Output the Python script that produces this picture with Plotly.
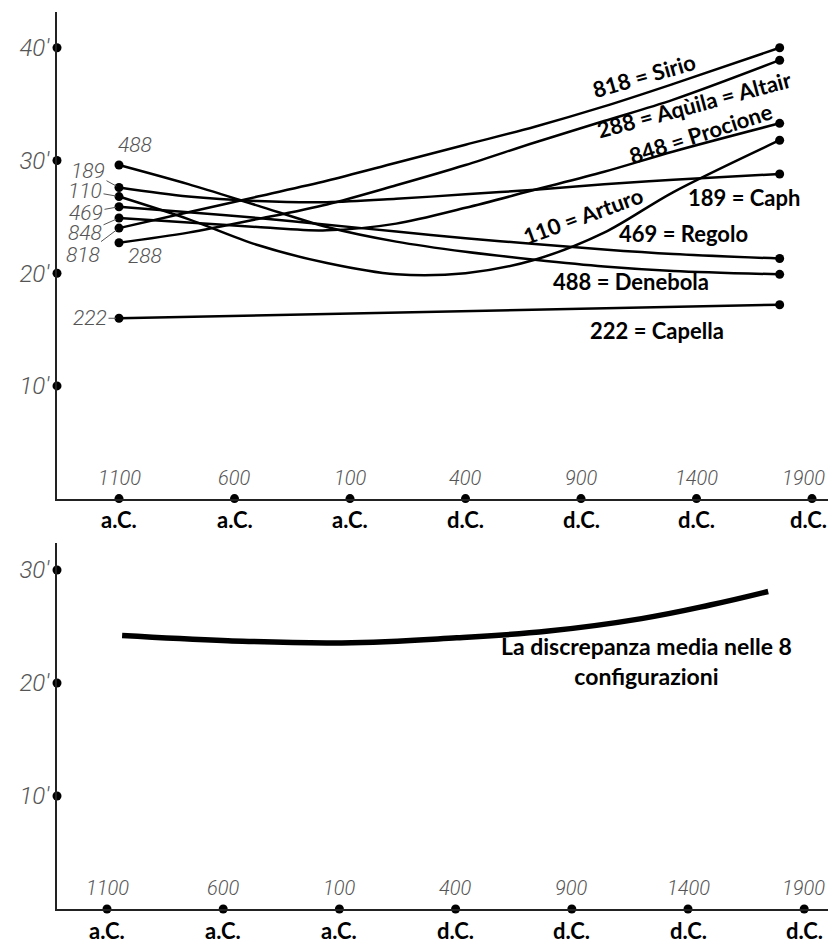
import plotly.graph_objects as go

# ---------------- data ----------------
years = [-1100, -800, -500, -200, 100, 400, 700, 1000, 1300, 1760]
sirio    = [24.0, 25.4, 26.8, 28.2, 29.8, 31.4, 33.0, 34.8, 36.8, 40.0]
altair   = [22.7, 23.6, 24.8, 26.1, 27.8, 29.6, 31.6, 33.5, 35.4, 38.9]
procione = [24.9, 24.5, 24.1, 23.8, 24.4, 25.8, 27.4, 29.0, 30.8, 33.3]
arturo   = [26.8, 24.8, 22.5, 20.9, 19.9, 20.0, 21.2, 23.6, 27.2, 31.8]
caph     = [27.6, 26.8, 26.4, 26.3, 26.6, 27.0, 27.4, 27.9, 28.3, 28.8]
regolo   = [25.9, 25.4, 24.9, 24.3, 23.7, 23.1, 22.6, 22.1, 21.7, 21.3]
denebola = [29.6, 27.9, 26.0, 24.1, 22.8, 21.9, 21.2, 20.6, 20.2, 19.9]
capella_years = [-1100, 1760]
capella  = [16.0, 17.2]

mean_years = [-1035, -580, -90, 405, 800, 1200, 1495, 1745]
mean_vals  = [24.2, 23.75, 23.55, 24.0, 24.6, 25.7, 26.9, 28.1]

x_tick_years = [-1100, -600, -100, 400, 900, 1400, 1900]
x_tick_nums  = ["1100", "600", "100", "400", "900", "1400", "1900"]
x_tick_eras  = ["a.C.", "a.C.", "a.C.", "d.C.", "d.C.", "d.C.", "d.C."]
top_y_ticks  = [10, 20, 30, 40]
bot_y_ticks  = [10, 20, 30]
y_tick_text  = {10: "10'", 20: "20'", 30: "30'", 40: "40'"}

# ---------------- layout geometry ----------------
# the page body has an 8 px margin, so the figure is drawn 8 px smaller and offset
O = 8
W, H = 836 - O, 943 - O
VISIBLE_RIGHT = 826  # right-most page pixel that is reliably visible


def px_x(px):
    return (px - O) / W


def px_y(py):
    return (H - (py - O)) / H


def top_x(px):
    return -1100 + (px - 119) / 115.5 * 500


def top_x_px(year):
    return 119 + (year + 1100) / 500 * 115.5


def top_y(py):
    return (498.6 - py) / 11.27


def bot_x(px):
    return -1100 + (px - 107) / 116.2 * 500


def bot_x_px(year):
    return 107 + (year + 1100) / 500 * 116.2


def bot_y(py):
    return (909 - py) / 11.3


top_xrange = [top_x(57), top_x(836)]
top_yrange = [0, top_y(12)]
bot_xrange = [bot_x(57), bot_x(836)]
bot_yrange = [0, bot_y(543)]

GRAY_FONT = dict(family="Roboto, 'Liberation Sans Narrow', sans-serif",
                 size=21, color="#555555", style="italic", weight=300)
XNUM_FONT = dict(GRAY_FONT, size=20)
YTICK_FONT = dict(GRAY_FONT, size=24)
BOLD_FONT = dict(family="Lato, 'Open Sans', sans-serif", size=22, color="black", weight="bold")

fig = go.Figure()

series = [
    ("818", sirio), ("288", altair), ("848", procione), ("110", arturo),
    ("189", caph), ("469", regolo), ("488", denebola),
]
for code, vals in series:
    fig.add_trace(go.Scatter(x=years, y=vals, mode="lines",
                             line=dict(color="black", width=2.5, shape="spline", smoothing=0.9),
                             hoverinfo="skip", showlegend=False, xaxis="x", yaxis="y"))
    fig.add_trace(go.Scatter(x=[years[0], years[-1]], y=[vals[0], vals[-1]], mode="markers",
                             marker=dict(color="black", size=9), cliponaxis=False,
                             hoverinfo="skip", showlegend=False, xaxis="x", yaxis="y"))
fig.add_trace(go.Scatter(x=capella_years, y=capella, mode="lines+markers",
                         line=dict(color="black", width=2.5), marker=dict(color="black", size=9),
                         cliponaxis=False, hoverinfo="skip", showlegend=False, xaxis="x", yaxis="y"))

# mean curve (bottom)
fig.add_trace(go.Scatter(x=mean_years, y=mean_vals, mode="lines",
                         line=dict(color="black", width=5.5, shape="spline", smoothing=1.2),
                         hoverinfo="skip", showlegend=False, xaxis="x2", yaxis="y2"))

# tick dots on the axes
for xa, ya, xr, yt in (("x", "y", top_xrange, top_y_ticks), ("x2", "y2", bot_xrange, bot_y_ticks)):
    fig.add_trace(go.Scatter(x=x_tick_years, y=[0] * len(x_tick_years), mode="markers",
                             marker=dict(color="black", size=9), cliponaxis=False,
                             hoverinfo="skip", showlegend=False, xaxis=xa, yaxis=ya))
    fig.add_trace(go.Scatter(x=[xr[0]] * len(yt), y=yt, mode="markers",
                             marker=dict(color="black", size=9), cliponaxis=False,
                             hoverinfo="skip", showlegend=False, xaxis=xa, yaxis=ya))

annotations = []
# x tick labels: numbers above the axis, era below
NUM_HALF_W = 23
ERA_HALF_W = 20
for xr, yr, to_px in (("x", "y", top_x_px), ("x2", "y2", bot_x_px)):
    for yr_val, num, era in zip(x_tick_years, x_tick_nums, x_tick_eras):
        cx = to_px(yr_val)
        nshift = min(0, VISIBLE_RIGHT - (cx + NUM_HALF_W))
        eshift = min(0, VISIBLE_RIGHT + 2 - (cx + ERA_HALF_W))
        annotations.append(dict(x=yr_val, y=0, xref=xr, yref=yr, text=num, showarrow=False,
                                yshift=21, xshift=nshift, font=XNUM_FONT))
        annotations.append(dict(x=yr_val, y=0, xref=xr, yref=yr, text=era, showarrow=False,
                                yshift=-21, xshift=eshift, font=BOLD_FONT))

# start labels (gray italic) with leader lines
start_labels = [
    ("488", denebola[0], 16, 20, False),
    ("189", caph[0], -31, -17, True),
    ("110", arturo[0], -34, -6, True),
    ("469", regolo[0], -33, 6, True),
    ("848", procione[0], -34, 15, True),
    ("818", sirio[0], -36, 27, True),
    ("288", altair[0], 26, -13, False),
    ("222", capella[0], -29, 0, True),
]
for txt, yv, dx, dy, leader in start_labels:
    if leader:
        annotations.append(dict(x=years[0], y=yv, xref="x", yref="y", text=txt, showarrow=True,
                                ax=dx, ay=dy, axref="pixel", ayref="pixel", arrowhead=0,
                                arrowwidth=1, arrowcolor="#555555", standoff=3, font=GRAY_FONT))
    else:
        annotations.append(dict(x=years[0], y=yv, xref="x", yref="y", text=txt, showarrow=False,
                                xshift=dx, yshift=dy, font=GRAY_FONT))

# name labels
name_labels = [
    ("818 = Sirio", 644, 75, -16),
    ("288 = Aqùila = Altair", 694, 104, -15),
    ("848 = Procione", 700, 133, -18),
    ("110 = Arturo", 583, 215, -20),
    ("189 = Caph", 744, 197, 0),
    ("469 = Regolo", 683, 233, 0),
    ("488 = Denebola", 631, 281, 0),
    ("222 = Capella", 657, 330, 0),
]
for txt, px, py, ang in name_labels:
    annotations.append(dict(x=top_x(px), y=top_y(py), xref="x", yref="y", text=txt,
                            showarrow=False, textangle=ang, font=BOLD_FONT))

annotations.append(dict(x=bot_x(646), y=bot_y(661), xref="x2", yref="y2",
                        text="La discrepanza media nelle 8<br>configurazioni", showarrow=False,
                        font=dict(BOLD_FONT, size=23), align="center"))

axis_common = dict(showgrid=False, zeroline=False, showline=True, linecolor="#222222",
                   linewidth=2, ticks="", fixedrange=True)

fig.update_layout(
    width=W, height=H, margin=dict(l=0, r=0, t=0, b=0),
    paper_bgcolor="white", plot_bgcolor="white", showlegend=False,
    annotations=annotations,
    xaxis=dict(axis_common, domain=[px_x(57), 1], range=top_xrange, anchor="y",
               showticklabels=False),
    yaxis=dict(axis_common, domain=[px_y(498.6), px_y(12)], range=top_yrange, anchor="x",
               tickvals=top_y_ticks, ticktext=[y_tick_text[v] for v in top_y_ticks],
               tickfont=YTICK_FONT, ticklabelstandoff=1),
    xaxis2=dict(axis_common, domain=[px_x(57), 1], range=bot_xrange, anchor="y2",
                showticklabels=False),
    yaxis2=dict(axis_common, domain=[px_y(909), px_y(543)], range=bot_yrange, anchor="x2",
                tickvals=bot_y_ticks, ticktext=[y_tick_text[v] for v in bot_y_ticks],
                tickfont=YTICK_FONT, ticklabelstandoff=1),
)

fig.write_html("out.html")
